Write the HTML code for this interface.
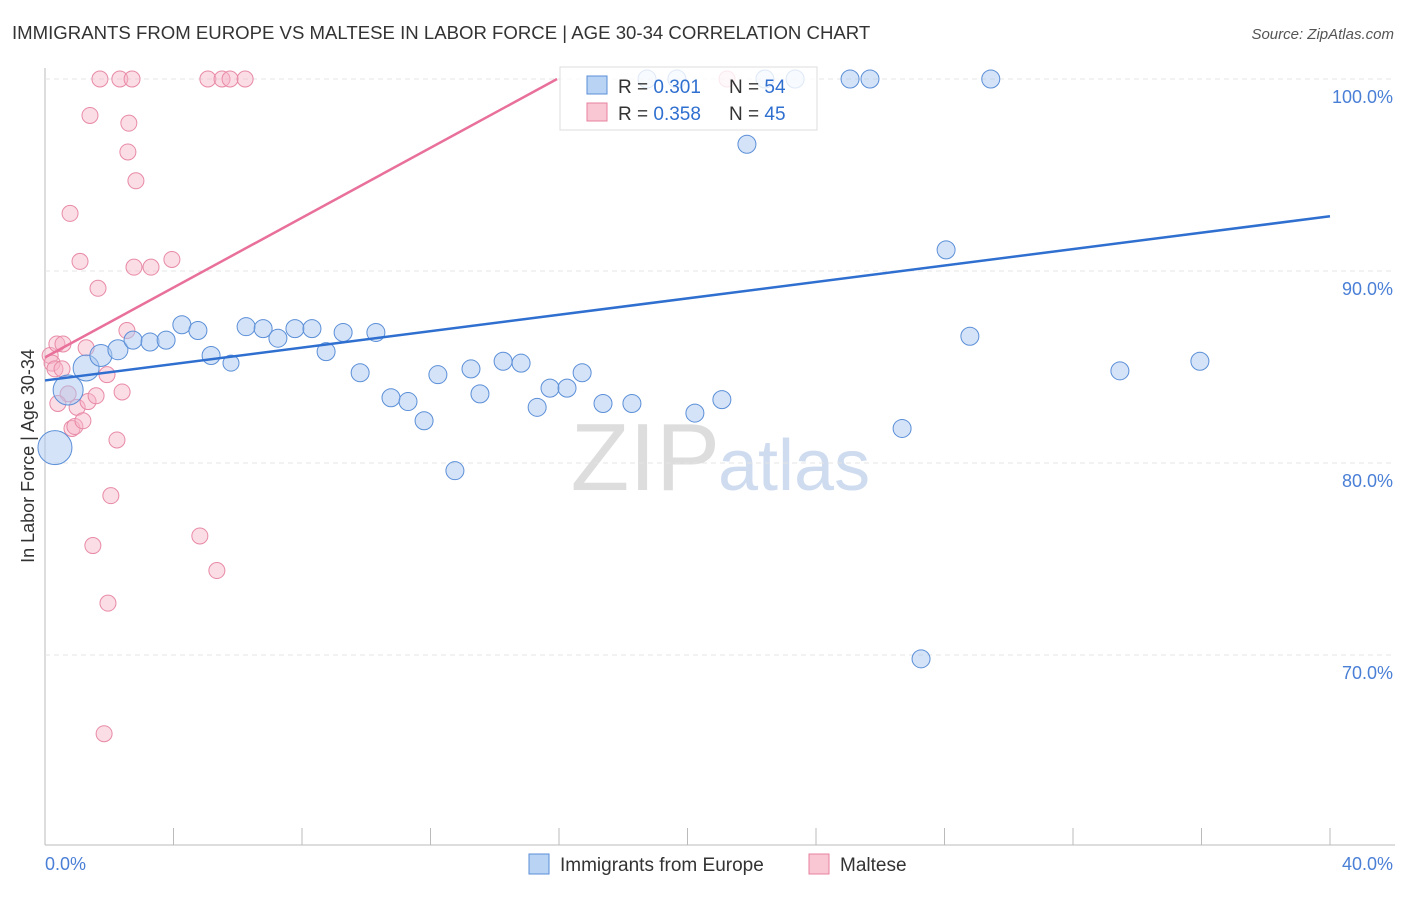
<!DOCTYPE html>
<html><head><meta charset="utf-8"><style>
body{margin:0;background:#fff;font-family:"Liberation Sans",sans-serif}
svg text{font-family:"Liberation Sans",sans-serif}
</style></head><body>
<svg id="c" width="1406" height="892">
<text x="12" y="39" font-size="18.6" fill="#333">IMMIGRANTS FROM EUROPE VS MALTESE IN LABOR FORCE | AGE 30-34 CORRELATION CHART</text>
<text x="1394" y="39" font-size="15" fill="#555" text-anchor="end" font-style="italic">Source: ZipAtlas.com</text>
<text x="34" y="456" font-size="18" fill="#333" text-anchor="middle" transform="rotate(-90 34 456)">In Labor Force | Age 30-34</text>
<text x="720" y="490" font-size="96" fill="#ddd" text-anchor="end" font-family="Liberation Serif">ZIP</text>
<text x="718" y="490" font-size="72" fill="#cfdcf0">atlas</text>
<g id="grid"></g><g id="marks"></g>
<g>
<rect x="560" y="67" width="257" height="63" fill="rgba(255,255,255,0.8)" stroke="#ddd"/>
<rect x="587" y="76" width="20" height="18" fill="#b9d3f5" stroke="#5b8fd8"/>
<rect x="587" y="103" width="20" height="18" fill="#f9c6d4" stroke="#e8829f"/>
<text x="618" y="93" font-size="19" fill="#333">R = <tspan fill="#2f6fd0">0.301</tspan></text>
<text x="729" y="93" font-size="19" fill="#333">N = <tspan fill="#2f6fd0">54</tspan></text>
<text x="618" y="120" font-size="19" fill="#333">R = <tspan fill="#2f6fd0">0.358</tspan></text>
<text x="729" y="120" font-size="19" fill="#333">N = <tspan fill="#2f6fd0">45</tspan></text>
</g>
<g>
<rect x="529" y="854" width="20" height="20" fill="#b9d3f5" stroke="#5b8fd8"/>
<text x="560" y="871" font-size="19" fill="#333">Immigrants from Europe</text>
<rect x="809" y="854" width="20" height="20" fill="#f9c6d4" stroke="#e8829f"/>
<text x="840" y="871" font-size="19" fill="#333">Maltese</text>
</g>
</svg>
<script>
const xTicks=[0,4,8,12,16,20,24,28,32,36,40];
const yTicks=[70,80,90,100];
const blueX=[0.31,0.72,1.28,1.74,2.27,2.74,3.27,3.77,4.26,4.76,5.17,5.79,6.26,6.79,7.25,7.78,8.31,8.75,9.28,9.81,10.3,10.77,11.3,11.8,12.23,12.76,13.26,13.54,14.26,14.82,15.32,15.72,16.25,16.72,17.37,18.27,18.74,19.67,20.23,21.07,21.85,22.41,23.35,25.06,25.68,26.68,27.27,28.05,28.79,29.44,33.46,35.95];
const blueY=[80.8,83.8,84.95,85.6,85.9,86.4,86.3,86.4,87.2,86.9,85.6,85.2,87.1,87.0,86.5,87.0,87.0,85.8,86.8,84.7,86.8,83.4,83.2,82.2,84.6,79.6,84.9,83.6,85.3,85.2,82.9,83.9,83.9,84.7,83.1,83.1,100,100,82.6,83.3,96.6,100,100,100,100,81.8,69.8,91.1,86.6,100,84.8,85.3];
const blueR=[17,15,13,11,10,9,9,9,9,9,9,8,9,9,9,9,9,9,9,9,9,9,9,9,9,9,9,9,9,9,9,9,9,9,9,9,9,9,9,9,9,9,9,9,9,9,9,9,9,9,9,9];
const pinkPx=[50,52,55,57,62,63,68,58,70,72,75,77,80,83,86,88,90,93,96,98,100,104,107,108,111,117,122,120,127,128,129,132,136,134,151,172,200,208,217,222,230,245,727];
const pinkX=pinkPx.map(p=>+((p-45)/1285*40).toFixed(2));
const pinkY=[85.6,85.2,84.9,86.2,84.9,86.2,83.6,83.1,93.0,81.8,81.9,82.9,90.5,82.2,86.0,83.2,98.1,75.7,83.5,89.1,100,65.9,84.6,72.7,78.3,81.2,83.7,100,86.9,96.2,97.7,100,94.7,90.2,90.2,90.6,76.2,100,74.4,100,100,100,100];
const blueTrend=[[0,84.3],[40,92.85]];
const pinkTrend=[[0,85.5],[15.94,100]];
const X=v=>45+v/40*1285, Y=v=>79+(100-v)*19.2;
const NS='http://www.w3.org/2000/svg';
const grid=document.getElementById('grid'),marks=document.getElementById('marks');
function mk(tag,a,p){const e=document.createElementNS(NS,tag);for(const k in a)e.setAttribute(k,a[k]);p.appendChild(e);return e;}
let e=mk('line',{x1:45,y1:68,x2:45,y2:845,stroke:'#bbb'},grid);


e=mk('line',{x1:45,y1:845,x2:1395,y2:845,stroke:'#bbb'},grid);


yTicks.forEach(t=>{
 let g=mk('line',{x1:45,y1:Y(t),x2:1395,y2:Y(t),stroke:'#e4e4e4','stroke-dasharray':'5,4'},grid);
 
 
 let l=mk('text',{x:1393,y:Y(t)+24,'font-size':18,fill:'#4a7fd6','text-anchor':'end'},grid);l.textContent=t.toFixed(1)+'%';
 
 
});
xTicks.forEach((t,i)=>{
 let g=mk('line',{x1:X(t),y1:828,x2:X(t),y2:845,stroke:'#bbb'},grid);
 
 
 if(i==0||i==xTicks.length-1){let l=mk('text',{x:i?1393:45,y:870,'font-size':18,fill:'#4a7fd6','text-anchor':i?'end':'start'},grid);l.textContent=t.toFixed(1)+'%';
 
 }
});
pinkX.forEach((x,i)=>{let c=mk('circle',{cx:X(x),cy:Y(pinkY[i]),r:8,fill:'rgba(246,180,200,0.45)',stroke:'#e88aa6','stroke-width':1},marks);
 
 });
blueX.forEach((x,i)=>{let c=mk('circle',{cx:X(x),cy:Y(blueY[i]),r:blueR[i],fill:'rgba(170,200,240,0.5)',stroke:'#5b8fd8','stroke-width':1},marks);
 
 });
e=mk('line',{x1:X(blueTrend[0][0]),y1:Y(blueTrend[0][1]),x2:X(blueTrend[1][0]),y2:Y(blueTrend[1][1]),stroke:'#2f6fd0','stroke-width':2.5},marks);


e=mk('line',{x1:X(pinkTrend[0][0]),y1:Y(pinkTrend[0][1]),x2:X(pinkTrend[1][0]),y2:Y(pinkTrend[1][1]),stroke:'#e8709a','stroke-width':2.5},marks);


</script>
</body></html>
